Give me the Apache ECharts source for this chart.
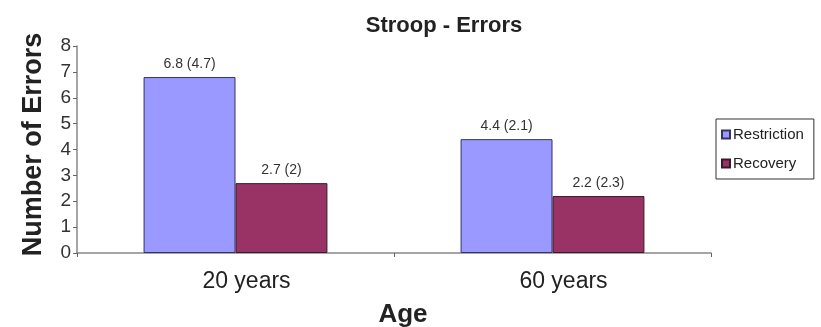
<!DOCTYPE html>
<html>
<head>
<meta charset="utf-8">
<script src="https://cdn.jsdelivr.net/npm/echarts@6/dist/echarts.min.js"></script>
<style>
  html, body { margin: 0; padding: 0; background: #fff; }
  #chart { width: 821px; height: 327px; }
</style>
</head>
<body>
<div id="chart"></div>
<script>
// Stroop task errors by age group, mean with SD in brackets
const categories = ['20 years', '60 years'];
const restrictionMean = [6.8, 4.4];
const restrictionSD = [4.7, 2.1];
const recoveryMean = [2.7, 2.2];
const recoverySD = [2, 2.3];
const yTicks = [0, 1, 2, 3, 4, 5, 6, 7, 8];

const font = '"Liberation Sans", Arial, sans-serif';

function sdLabel(sd) {
  return function (p) { return p.value + ' (' + sd[p.dataIndex] + ')'; };
}

const chart = echarts.init(document.getElementById('chart'));
chart.setOption({
  backgroundColor: '#ffffff',
  animation: false,
  textStyle: { fontFamily: font },
  title: {
    text: 'Stroop - Errors',
    left: 439,
    textAlign: 'center',
    top: 10,
    textStyle: { fontSize: 22, fontWeight: 'bold', color: '#222', fontFamily: font }
  },
  legend: {
    orient: 'vertical',
    left: 716,
    top: 119,
    padding: [8, 10, 8, 5],
    borderColor: '#333',
    borderWidth: 1,
    itemWidth: 8,
    itemHeight: 8,
    itemGap: 14,
    icon: 'rect',
    textStyle: { fontSize: 15, color: '#222', fontFamily: font, padding: [0, 0, 0, -2] },
    data: ['Restriction', 'Recovery']
  },
  grid: { left: 77, right: 110, top: 46, bottom: 74, outerBoundsMode: 'none' },
  xAxis: {
    type: 'category',
    data: categories,
    name: 'Age',
    nameLocation: 'middle',
    nameGap: 49,
    nameTextStyle: { fontSize: 26, fontWeight: 'bold', color: '#222', fontFamily: font, padding: [0, 0, 0, 18] },
    axisLine: { lineStyle: { color: '#888', width: 1.5 } },
    axisTick: { show: true, length: 4, lineStyle: { color: '#666' } },
    axisLabel: { fontSize: 23, color: '#222', margin: 17, fontFamily: font, padding: [0, 0, 0, 22] }
  },
  yAxis: {
    type: 'value',
    min: yTicks[0],
    max: yTicks[yTicks.length - 1],
    interval: 1,
    name: 'Number of Errors',
    nameLocation: 'middle',
    nameGap: 30,
    nameRotate: 90,
    nameTextStyle: { fontSize: 27, fontWeight: 'bold', color: '#222', fontFamily: font, padding: [0, 0, 0, 10] },
    axisLine: { show: true, lineStyle: { color: '#888', width: 1.5 } },
    axisTick: { show: true, length: 4, lineStyle: { color: '#666' } },
    axisLabel: { fontSize: 19, color: '#333', margin: 6, fontFamily: font },
    splitLine: { show: false }
  },
  series: [
    {
      name: 'Restriction',
      type: 'bar',
      data: restrictionMean,
      barGap: '0%',
      barCategoryGap: '42%',
      itemStyle: { color: '#9999FF', borderColor: '#333366', borderWidth: 1 },
      label: {
        show: true, position: 'top', distance: 6,
        fontSize: 14, color: '#333', fontFamily: font,
        formatter: sdLabel(restrictionSD)
      }
    },
    {
      name: 'Recovery',
      type: 'bar',
      data: recoveryMean,
      itemStyle: { color: '#993366', borderColor: '#3a1a2a', borderWidth: 1 },
      label: {
        show: true, position: 'top', distance: 6,
        fontSize: 14, color: '#333', fontFamily: font,
        formatter: sdLabel(recoverySD)
      }
    }
  ]
});
</script>
</body>
</html>
